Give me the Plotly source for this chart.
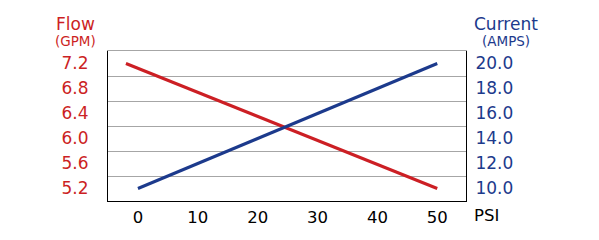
import plotly.graph_objects as go

# ---- data ----
psi_flow = [-2, 50]
flow_gpm = [7.2, 5.2]
psi_current = [0, 50]
current_amps = [10.0, 20.0]

x_ticks = [0, 10, 20, 30, 40, 50]
flow_ticks = [5.2, 5.6, 6.0, 6.4, 6.8, 7.2]
flow_grid = [5.4, 5.8, 6.2, 6.6, 7.0]
current_ticks = [10.0, 12.0, 14.0, 16.0, 18.0, 20.0]

RED = "#cc1f24"
BLUE = "#1c3a8c"
GRID = "#a6a6a6"
FONT = "DejaVu Sans"
X_RANGE = [-5, 54.8]

fig = go.Figure()
fig.add_trace(go.Scatter(x=psi_flow, y=flow_gpm, mode="lines",
                         line=dict(color=RED, width=3), xaxis="x", yaxis="y", showlegend=False))
fig.add_trace(go.Scatter(x=psi_current, y=current_amps, mode="lines",
                         line=dict(color=BLUE, width=3), xaxis="x2", yaxis="y2", showlegend=False))

fig.update_layout(
    width=599, height=240,
    margin=dict(l=108, r=133, t=51, b=39),
    paper_bgcolor="white", plot_bgcolor="white",
    font=dict(family=FONT),
    xaxis=dict(range=X_RANGE, tickvals=x_ticks, ticktext=[str(v) for v in x_ticks],
               showgrid=False, zeroline=False, showline=True, linecolor="black", linewidth=1,
               ticks="", ticklabelstandoff=1,
               tickfont=dict(family=FONT, size=16.5, color="black"), fixedrange=True),
    xaxis2=dict(range=X_RANGE, overlaying="x", side="top", showticklabels=False,
                showgrid=False, zeroline=False, showline=True, linecolor=GRID, linewidth=1,
                ticks="", fixedrange=True),
    yaxis=dict(range=[5.0, 7.4], tickvals=flow_ticks, ticktext=[f"{v:.1f}" for v in flow_ticks],
               showgrid=False, zeroline=False, showline=True, linecolor="black", linewidth=1,
               ticks="", ticklabelstandoff=15,
               tickfont=dict(family=FONT, size=17, color=RED),
               minor=dict(tickvals=flow_grid, showgrid=True, gridcolor=GRID, gridwidth=1, ticks=""),
               fixedrange=True),
    yaxis2=dict(range=[9.0, 21.0], tickvals=current_ticks, ticktext=[f"{v:.1f}" for v in current_ticks],
                overlaying="y", side="right", anchor="x",
                showgrid=False, zeroline=False, showline=True, linecolor="black", linewidth=1,
                ticks="", ticklabelstandoff=5,
                tickfont=dict(family=FONT, size=17, color=BLUE), fixedrange=True),
)

def label(text, px, py, size, color):
    fig.add_annotation(text=text, xref="paper", yref="paper",
                       x=(px - 108) / 358, y=(201 - py) / 150,
                       xanchor="center", yanchor="middle", showarrow=False,
                       font=dict(family=FONT, size=size, color=color))

label("Flow", 75, 24, 17, RED)
label("(GPM)", 75.5, 41, 13.5, RED)
label("Current", 505.5, 24, 17, BLUE)
label("(AMPS)", 506, 41, 13.5, BLUE)
label("PSI", 486.5, 215, 16.5, "black")

fig.write_html("out.html")
